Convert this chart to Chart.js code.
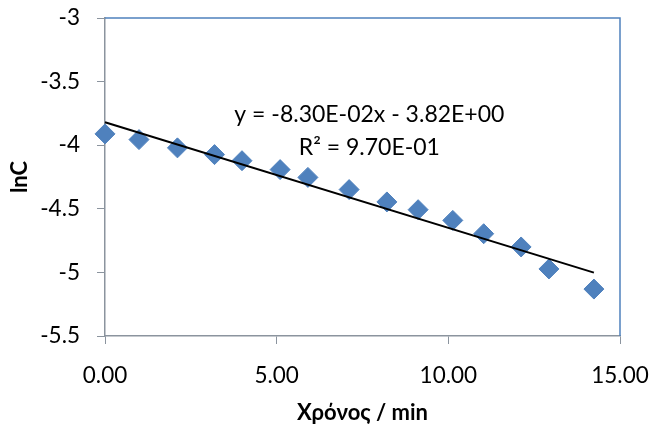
<!DOCTYPE html>
<html>
<head>
<meta charset="utf-8">
<script src="https://cdn.jsdelivr.net/npm/chart.js@4.4.0/dist/chart.umd.min.js"></script>
<style>
  body { margin: 0; background: #fff; }
  #wrap { width: 653px; height: 430px; }
</style>
</head>
<body>
<div id="wrap"><canvas id="chart"></canvas></div>
<script>
// measured points (time in min, ln of concentration)
const timeMin = [0, 0.99, 2.11, 3.19, 3.99, 5.10, 5.91, 7.11, 8.21, 9.12, 10.13, 11.03, 12.12, 12.93, 14.24];
const lnC = [-3.911, -3.956, -4.021, -4.074, -4.122, -4.192, -4.253, -4.349, -4.446, -4.507, -4.591, -4.696, -4.800, -4.973, -5.131];

// linear trend as printed on the chart
const trendSlope = -0.083;
const trendIntercept = -3.82;
const equationLines = ['y = -8.30E-02x - 3.82E+00', 'R\u00b2 = 9.70E-01'];
const equationAt = { x: 7.7, y: -3.76 };

const FONT = 'Lato, "Open Sans", sans-serif';
const AXIS_GREY = '#8b949e';
const BLUE = '#4f81bd';

const xMin = Math.min(...timeMin), xMax = Math.max(...timeMin);
const trendPts = [xMin, xMax].map(x => ({ x: x, y: trendSlope * x + trendIntercept }));
const points = timeMin.map((t, i) => ({ x: t, y: lnC[i] }));

// blue plot-area border on top and right, plus the equation label
const extras = {
    id: 'extras',
    beforeDatasetsDraw(chart) {
        const a = chart.chartArea, ctx = chart.ctx;
        ctx.save();
        ctx.strokeStyle = BLUE;
        ctx.lineWidth = 1.5;
        ctx.beginPath();
        ctx.moveTo(a.left, a.top);
        ctx.lineTo(a.right, a.top);
        ctx.lineTo(a.right, a.bottom);
        ctx.stroke();
        ctx.restore();
    },
    afterDatasetsDraw(chart) {
        const ctx = chart.ctx;
        const px = chart.scales.x.getPixelForValue(equationAt.x);
        const py = chart.scales.y.getPixelForValue(equationAt.y);
        ctx.save();
        ctx.fillStyle = '#000';
        ctx.font = '23px ' + FONT;
        ctx.textAlign = 'center';
        ctx.textBaseline = 'middle';
        equationLines.forEach((s, i) => ctx.fillText(s, px, py + i * 33));
        ctx.restore();
    }
};

new Chart(document.getElementById('chart'), {
    type: 'scatter',
    data: {
        datasets: [
            {
                label: 'lnC',
                data: points,
                pointStyle: 'rectRot',
                pointRadius: 10,
                pointHoverRadius: 10,
                backgroundColor: BLUE,
                borderColor: BLUE,
                borderWidth: 1,
                clip: false,
                order: 1
            },
            {
                label: 'trend',
                type: 'line',
                data: trendPts,
                borderColor: '#000',
                borderWidth: 2,
                pointRadius: 0,
                fill: false,
                clip: false,
                order: 0
            }
        ]
    },
    options: {
        responsive: true,
        maintainAspectRatio: false,
        animation: false,
        layout: { padding: { top: 18, right: 33, left: 0, bottom: 0 } },
        plugins: { legend: { display: false }, tooltip: { enabled: false } },
        scales: {
            x: {
                type: 'linear',
                min: 0, max: 15,
                afterFit: s => { s.height = 94; s.paddingLeft = 0; s.paddingRight = 0; },
                ticks: {
                    stepSize: 5,
                    padding: 18,
                    color: '#000',
                    font: { family: FONT, size: 22.5 },
                    callback: v => v.toFixed(2)
                },
                grid: { drawOnChartArea: false, color: AXIS_GREY, tickLength: 8 },
                border: { color: AXIS_GREY, width: 1.5 },
                title: {
                    display: true,
                    text: 'Χρόνος / min',
                    color: '#000',
                    font: { family: FONT, size: 22, weight: 'bold' },
                    padding: { top: 0, bottom: 4 }
                }
            },
            y: {
                type: 'linear',
                min: -5.5, max: -3,
                afterFit: s => { s.width = 105; s.paddingTop = 0; s.paddingBottom = 0; },
                ticks: {
                    stepSize: 0.5,
                    padding: 17,
                    color: '#000',
                    font: { family: FONT, size: 22.5 },
                    callback: v => String(v)
                },
                grid: { drawOnChartArea: false, color: AXIS_GREY, tickLength: 8 },
                border: { color: AXIS_GREY, width: 1.5 },
                title: {
                    display: true,
                    text: 'lnC',
                    color: '#000',
                    font: { family: FONT, size: 22, weight: 'bold' },
                    padding: { top: 7, bottom: 0 }
                }
            }
        }
    },
    plugins: [extras]
});
</script>
</body>
</html>
